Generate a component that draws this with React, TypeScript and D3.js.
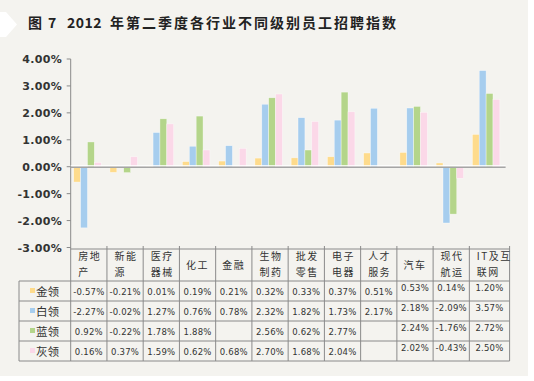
import React from "react";
import * as d3 from "d3";

const categories = ["房地产", "新能源", "医疗器械", "化工", "金融", "生物制药", "批发零售", "电子电器", "人才服务", "汽车", "现代航运", "IT及互联网"];
const headerLines = [["房地", "产"], ["新能", "源"], ["医疗", "器械"], ["化工"], ["金融"], ["生物", "制药"], ["批发", "零售"], ["电子", "电器"], ["人才", "服务"], ["汽车"], ["现代", "航运"], ["IT及互", "联网"]];
const seriesNames = ["金领", "白领", "蓝领", "灰领"];
const gold = [-0.57, -0.21, 0.01, 0.19, 0.21, 0.32, 0.33, 0.37, 0.51, 0.53, 0.14, 1.2];
const white = [-2.27, -0.02, 1.27, 0.76, 0.78, 2.32, 1.82, 1.73, 2.17, 2.18, -2.09, 3.57];
const blue = [0.92, -0.22, 1.78, 1.88, null, 2.56, 0.62, 2.77, null, 2.24, -1.76, 2.72];
const grey = [0.16, 0.37, 1.59, 0.62, 0.68, 2.7, 1.68, 2.04, null, 2.02, -0.43, 2.5];
const yTicks = [4, 3, 2, 1, 0, -1, -2, -3];
const colors = ["#fedb8c", "#a6cdee", "#b4d58a", "#fbd8e8"];

const series: (number | null)[][] = [gold, white, blue, grey];

const W = 534, H = 381;
const plotLeft = 70.7, plotRight = 505.6;
const yTop = 59, yBottom = 247.5;
const tableTop = 249, headerBottom = 281, rowH = 20, legendLeft = 19;
const fmt = (v: number) => `${v.toFixed(2)}%`;

export default function App() {
  const x0 = d3.scaleBand<string>().domain(categories).range([plotLeft, plotRight]);
  const x1 = d3.scaleBand<string>().domain(seriesNames).range([3, 30.5]);
  const y = d3.scaleLinear().domain([-3, 4]).range([yBottom, yTop]);
  const tableRight = plotRight + 4;
  const colEdges = categories.map((c) => x0(c) as number).concat([tableRight]);
  const tableBottom = headerBottom + rowH * seriesNames.length;
  const lineColor = "#8a8a8a";
  const cjk = "'Noto Sans CJK SC', 'Noto Sans', sans-serif";
  const latin = "'DejaVu Sans', Verdana, sans-serif";

  return (
    <svg width={W} height={H} style={{ position: "fixed", left: 0, top: 0 }} xmlns="http://www.w3.org/2000/svg">
      <rect x={0} y={0} width={W} height={H} fill="#ffffff" />
      <rect x={0} y={0} width={528} height={376} fill="#f4f3ef" />
      <polygon points="0,12 6,12 17,24.5 6,37 0,37" fill="#ffffff" />
      {/* title */}
      <g fontFamily={cjk} fontWeight="bold" fontSize={14} fill="#222">
        <text x={28} y={28}>图</text>
        <text x={48} y={28}>7</text>
        <text x={67} y={28} letterSpacing={0.5}>2012</text>
        <text x={110} y={28} letterSpacing={2}>年第二季度各行业不同级别员工招聘指数</text>
      </g>
      {/* y axis */}
      <line x1={plotLeft} x2={plotLeft} y1={yTop} y2={tableTop} stroke={lineColor} strokeWidth={1} />
      {yTicks.map((t) => (
        <g key={t}>
          <line x1={plotLeft - 4} x2={plotLeft} y1={y(t)} y2={y(t)} stroke={lineColor} />
          <text x={62} y={y(t) + 4} textAnchor="end" fontFamily={latin} fontSize={11} fill="#333" fontWeight="bold" letterSpacing={0.3}>
            {fmt(t)}
          </text>
        </g>
      ))}
      {/* bars */}
      {categories.map((c, i) => (
        <g key={c} transform={`translate(${x0(c)},0)`}>
          {series.map((s, j) => {
            const v = s[i];
            if (v === null) return null;
            const y0 = y(0), yv = y(v);
            return (
              <rect key={j} x={x1(seriesNames[j])} width={x1.bandwidth()} y={Math.min(y0, yv)} height={Math.abs(yv - y0)}
                fill={colors[j]} stroke="#ffffff" strokeOpacity={0.6} strokeWidth={0.6} />
            );
          })}
        </g>
      ))}
      {/* zero line */}
      <line x1={plotLeft} x2={plotRight} y1={y(0) - 1} y2={y(0) - 1} stroke="#ffffff" strokeWidth={1} />
      <line x1={plotLeft} x2={plotRight} y1={y(0) + 0.5} y2={y(0) + 0.5} stroke="#a5a5a5" strokeWidth={1.6} />
      {/* table grid */}
      <g stroke={lineColor} strokeWidth={1} fill="none">
        <line x1={plotLeft} x2={tableRight} y1={tableTop} y2={tableTop} />
        {seriesNames.map((_, r) => (
          <line key={r} x1={legendLeft} x2={tableRight} y1={headerBottom + r * rowH} y2={headerBottom + r * rowH} />
        ))}
        <line x1={legendLeft} x2={tableRight} y1={tableBottom} y2={tableBottom} />
        <line x1={legendLeft} x2={legendLeft} y1={headerBottom} y2={tableBottom} />
        {colEdges.map((e, k) => (
          <line key={k} x1={e} x2={e} y1={k === 0 ? tableTop : tableTop - 3} y2={tableBottom} />
        ))}
      </g>
      {/* header labels */}
      {categories.map((c, i) => {
        const left = colEdges[i];
        const right = colEdges[i + 1];
        const lines = headerLines[i];
        if (lines.length === 1) {
          return (
            <text key={c} x={(left + right) / 2} y={269} textAnchor="middle" fontFamily={cjk} fontSize={10} letterSpacing={1.5} fill="#333">
              {lines[0]}
            </text>
          );
        }
        return (
          <g key={c} fontFamily={cjk} fontSize={10} letterSpacing={1.5} fill="#333">
            <text x={left + 7.5} y={260}>{lines[0]}</text>
            <text x={left + 7.5} y={276}>{lines[1]}</text>
          </g>
        );
      })}
      {/* legend cells */}
      {seriesNames.map((n, r) => {
        const cy = headerBottom + r * rowH + rowH / 2;
        return (
          <g key={n}>
            <rect x={30} y={cy - 3} width={5} height={5} fill={colors[r]} />
            <text x={36} y={cy + 4.5} fontFamily={cjk} fontSize={11.5} fill="#333">{n}</text>
          </g>
        );
      })}
      {/* values */}
      {series.map((s, r) =>
        s.map((v, i) => {
          if (v === null) return null;
          const cx = (colEdges[i] + colEdges[i + 1]) / 2;
          const shift = i >= 9 ? -4 : 0;
          const cy = headerBottom + r * rowH + rowH / 2 + shift;
          return (
            <text key={`${r}-${i}`} x={cx} y={cy + 3.5} textAnchor="middle" fontFamily={latin} fontSize={8.5} fill="#333" letterSpacing={0.2}>
              {fmt(v)}
            </text>
          );
        })
      )}
    </svg>
  );
}
